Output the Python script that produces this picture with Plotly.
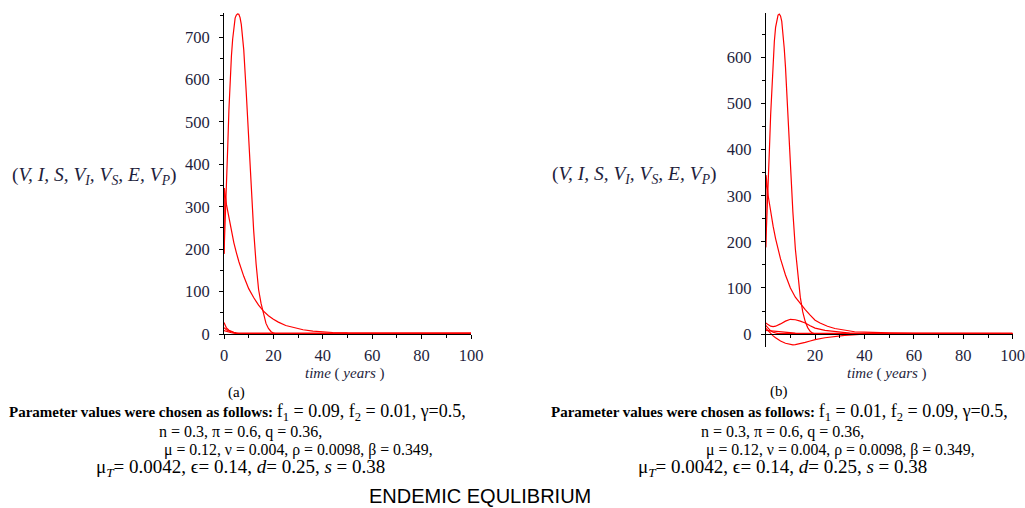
import plotly.graph_objects as go

W, H = 1025, 508


def px(x):
    return x / W


def py(y):
    return 1 - y / H


# ---------------- Panel (a) data ----------------
a_t_peak = [0, 0.5, 1, 1.5, 2, 2.5, 3, 3.5, 4, 4.5, 5, 5.5, 6, 6.5, 7, 7.5, 8, 9, 10, 11, 12, 13, 14, 15, 16, 17, 18, 19, 20, 21, 23]
a_peak = [189, 260, 340, 440, 530, 600, 655, 695, 725, 745, 752, 755, 754, 746, 730, 705, 670, 570, 450, 340, 245, 165, 105, 72, 45, 25, 13, 6, 2, 0.5, 0.5]

a_t_decay = [0, 0.15, 1, 2, 3, 4, 5, 6, 8, 10, 12, 14, 16, 18, 20, 22, 25, 28, 32, 36, 40, 44, 50, 60, 80, 100]
a_decay = [189, 344, 305, 272, 242, 215, 192, 171, 136, 107, 86, 68, 54, 43, 35, 28, 20, 15, 10, 7, 5, 3.5, 2.5, 2, 2, 2]

a_t_small1 = [0, 0.3, 0.6, 1, 2, 3, 4, 5, 6, 8, 10, 100]
a_small1 = [27, 22, 17, 14, 9, 6, 4, 3, 2.5, 2, 2, 2]

a_t_small2 = [0, 0.5, 1, 2, 3, 4, 6, 8, 100]
a_small2 = [15, 12, 10, 7, 5, 3, 1, 0.5, 0.5]

a_t_small3 = [0, 1, 2, 3, 5, 100]
a_small3 = [8, 6, 4, 3, 1, 1]

# ---------------- Panel (b) data ----------------
b_t_peak = [0, 0.5, 1, 1.5, 2, 2.5, 3, 3.5, 4, 4.5, 5, 5.5, 6, 6.5, 7, 7.5, 8, 9, 10, 11, 12, 13, 14, 15, 16, 17, 18, 19, 20]
b_peak = [188, 250, 320, 400, 475, 540, 595, 635, 665, 683, 692, 694, 690, 678, 655, 620, 580, 470, 360, 265, 185, 125, 80, 48, 27, 14, 6, 2, 0.5]

b_t_decay = [0, 0.15, 1, 2, 3, 4, 5, 6, 8, 10, 12, 14, 16, 18, 20, 22, 25, 28, 32, 36, 40, 45, 50, 60, 80, 100]
b_decay = [188, 345, 300, 264, 234, 207, 184, 163, 128, 100, 80, 66, 53, 41, 30, 24, 17, 12, 8, 5, 4, 3, 2.5, 2, 2, 2]

b_t_bump = [0, 1, 2, 3, 4, 6, 8, 10, 11, 12, 14, 16, 18, 20, 24, 28, 34, 40, 100]
b_bump = [24, 20, 17, 16, 17, 22, 28, 32, 32, 31, 28, 24, 18, 13, 8, 5, 2, 1, 1]

b_t_neg = [0, 1, 2, 3, 4, 6, 8, 10, 11, 12, 14, 16, 18, 20, 24, 28, 32, 38, 45, 100]
b_neg = [13, 7, 1, -4, -8, -15, -20, -23, -23.5, -23, -21, -18, -15, -12, -8, -5, -3, -1, 0, 0]

b_t_fast = [0, 1, 2, 3, 4, 5, 100]
b_fast = [19, 12, 7, 4, 2, 1, 1]

b_t_flat = [0, 2, 5, 8, 10, 12, 100]
b_flat = [8, 7, 6, 5, 4, 2, 1]

# tick values
x_major_a = [0, 20, 40, 60, 80, 100]
x_major_b = [20, 40, 60, 80, 100]
x_minor = [10, 30, 50, 70, 90]
y_major_a = [0, 100, 200, 300, 400, 500, 600, 700]
y_minor_a = [50, 150, 250, 350, 450, 550, 650, 750]
y_major_b = [0, 100, 200, 300, 400, 500, 600]
y_minor_b = [50, 150, 250, 350, 450, 550, 650]

LINE = dict(color="rgb(255,0,0)", width=1.2)
TICKFONT = dict(family="Liberation Serif", size=16.5, color="#1e1e3c")

fig = go.Figure()

left = [(a_t_peak, a_peak), (a_t_decay, a_decay), (a_t_small1, a_small1),
        (a_t_small2, a_small2), (a_t_small3, a_small3)]
right = [(b_t_peak, b_peak), (b_t_decay, b_decay), (b_t_bump, b_bump),
         (b_t_neg, b_neg), (b_t_fast, b_fast), (b_t_flat, b_flat)]

for t, v in left:
    fig.add_trace(go.Scatter(x=t, y=v, mode="lines", line=LINE, xaxis="x", yaxis="y",
                             showlegend=False, hoverinfo="skip"))
for t, v in right:
    fig.add_trace(go.Scatter(x=t, y=v, mode="lines", line=LINE, xaxis="x2", yaxis="y2",
                             showlegend=False, hoverinfo="skip"))

common_axis = dict(showline=True, linecolor="black", linewidth=1, ticks="outside",
                   ticklen=4, tickcolor="black", tickwidth=1, showgrid=False,
                   zeroline=False, tickfont=TICKFONT, automargin=False,
                   ticklabeloverflow="allow")
minor_style = dict(ticks="outside", ticklen=3, tickcolor="black")

fig.update_layout(
    width=W, height=H, autosize=False,
    margin=dict(l=0, r=0, t=0, b=0),
    paper_bgcolor="white", plot_bgcolor="white",
    xaxis=dict(domain=[px(224), px(471)], range=[0, 100], anchor="y",
               tickvals=x_major_a, ticklabelstandoff=2,
               minor=dict(tickvals=x_minor, **minor_style), **common_axis),
    yaxis=dict(domain=[py(334), py(13)], range=[0, 757], anchor="x",
               tickvals=y_major_a, ticklabelstandoff=6,
               minor=dict(tickvals=y_minor_a, **minor_style), **common_axis),
    xaxis2=dict(domain=[px(765.7), px(1012.7)], range=[0, 100], anchor="free",
                position=py(334.3), tickvals=x_major_b, ticklabelstandoff=2,
                minor=dict(tickvals=x_minor, **minor_style), **common_axis),
    yaxis2=dict(domain=[py(346.5), py(12.7)], range=[-27, 697], anchor="x2",
                tickvals=y_major_b, ticklabelstandoff=6,
                minor=dict(tickvals=y_minor_b, **minor_style), **common_axis),
)

SERIF = "Liberation Serif"
ylab = "(<i>V, I, S, V<sub>I</sub>, V<sub>S</sub>, E, V<sub>P</sub></i>)"
xlab = "<i>time</i> ( <i>years</i> )"

annots = []


def ann(text, x, y, size, xanchor="center", family=SERIF, color="black"):
    annots.append(dict(text=text, x=px(x), y=py(y), xref="paper", yref="paper",
                       xanchor=xanchor, yanchor="middle", showarrow=False,
                       font=dict(family=family, size=size, color=color)))


ann(ylab, 94, 176, 19.5, color="#1e1e3c")
ann(ylab, 634, 175, 19.5, color="#1e1e3c")
ann(xlab, 345, 373, 15, color="#1e1e3c")
ann(xlab, 887, 373, 15, color="#1e1e3c")
ann("(a)", 236, 392, 15)
ann("(b)", 779, 391, 15)

# parameter blocks
for x0, f1, f2 in [(0, "0.09", "0.01"), (542, "0.01", "0.09")]:
    ann("<b>Parameter values were chosen as follows:</b> "
        "<span style='font-size:18px'>f<sub>1</sub> = %s, f<sub>2</sub> = %s, γ=0.5,</span>" % (f1, f2),
        x0 + 7, 412, 15, xanchor="left")
    ann("n = 0.3, π = 0.6, q = 0.36,", x0 + 157, 432, 16, xanchor="left")
    ann("μ = 0.12, ν = 0.004, ρ = 0.0098, β = 0.349,", x0 + 162, 450, 15.8, xanchor="left")
    ann("μ<sub><i>T</i></sub>= 0.0042, ϵ= 0.14, <i>d</i>= 0.25, <i>s</i> = 0.38", x0 + 94, 468, 19, xanchor="left")

ann("ENDEMIC EQULIBRIUM", 480, 496, 20, family="Liberation Sans")

fig.update_layout(annotations=annots)
fig.write_html("out.html", config={"displayModeBar": False},
               post_script="document.body.style.margin='0';document.body.style.overflow='hidden';")
